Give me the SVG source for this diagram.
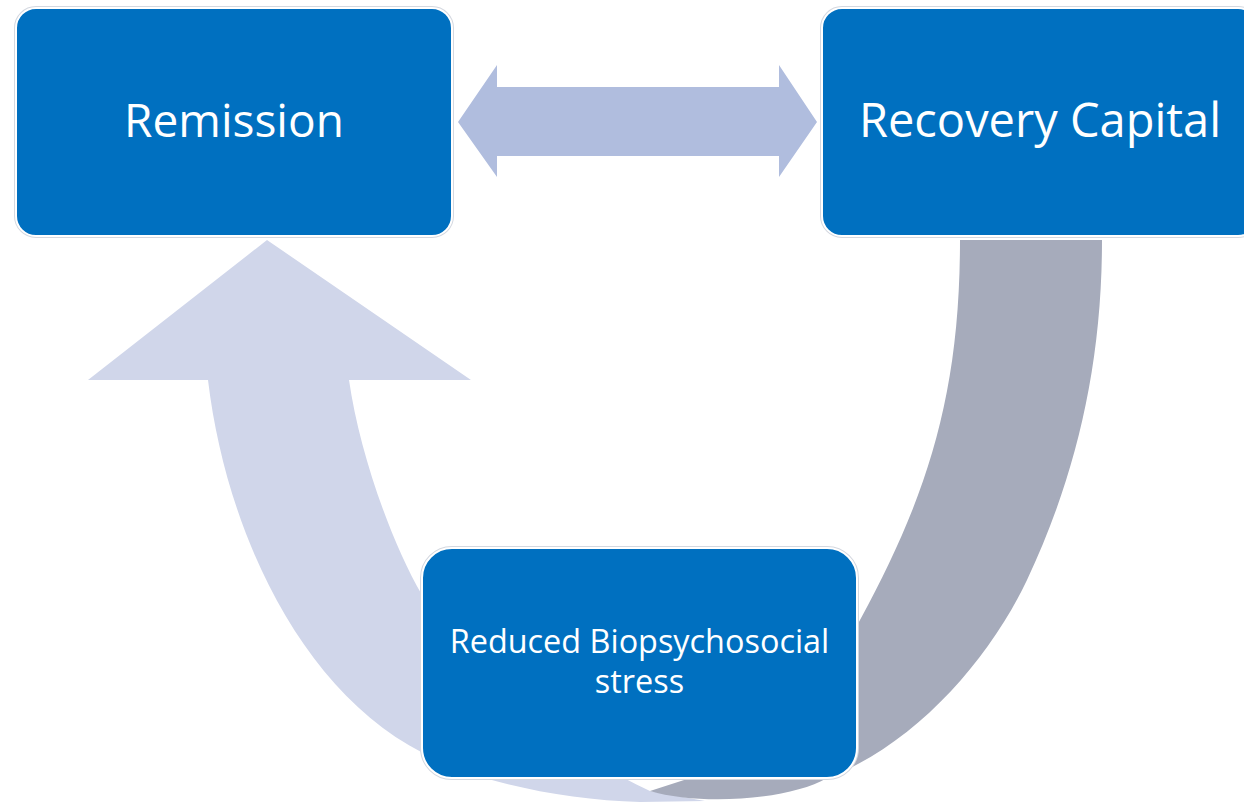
<svg xmlns="http://www.w3.org/2000/svg" width="1244" height="802" viewBox="0 0 1244 802">
  <style>
    .box { fill: #0070C0; stroke: #FFFFFF; stroke-width: 2; }
    .halo { fill: none; stroke: #D4D8E0; stroke-width: 4; }
    .lbl { font-family: "Open Sans", "Noto Sans", "Liberation Sans", sans-serif; fill: #FFFFFF; text-anchor: middle; }
  </style>
  <rect width="1244" height="802" fill="#FFFFFF"/>
  <g id="connectors">
    <path id="arc-light" fill="#D0D6EA" d="M88,380 L267,240 L471,380 L349,380 C359,450 390,540 422,595 C470,670 560,750 650,791 L705,801 L640,802 C560,800 470,780 423,753 C300,690 226,530 208,380 Z"/>
    <path id="arc-gray" fill="#A6ABBB" d="M960,240 L1102,240 C1102,370 1074,480 1027,580 C989,660 915,745 827,778 C790,800 700,806 650,791 L712,771 C770,740 830,680 860,620 C925,500 960,400 960,240 Z"/>
    <polygon id="double-arrow" fill="#B0BDDE" points="458,122 497,65 497,87 779,87 779,65 817,122 779,177 779,156 497,156 497,177"/>
  </g>
  <g id="node-remission">
    <rect class="halo" x="16" y="8" width="436" height="228" rx="20"/>
    <rect class="box" x="16" y="8" width="436" height="228" rx="20"/>
    <text class="lbl" x="234" y="137" font-size="46">Remission</text>
  </g>
  <g id="node-recovery-capital">
    <rect class="halo" x="822" y="8" width="436" height="228" rx="20"/>
    <rect class="box" x="822" y="8" width="436" height="228" rx="20"/>
    <text class="lbl" x="1040" y="137" font-size="47">Recovery Capital</text>
  </g>
  <g id="node-stress">
    <rect class="halo" x="422" y="548" width="435" height="230" rx="30"/>
    <rect class="box" x="422" y="548" width="435" height="230" rx="30"/>
    <text class="lbl" x="639.5" y="653" font-size="32.4">Reduced Biopsychosocial</text>
    <text class="lbl" x="639.5" y="693" font-size="32.4">stress</text>
  </g>
</svg>
